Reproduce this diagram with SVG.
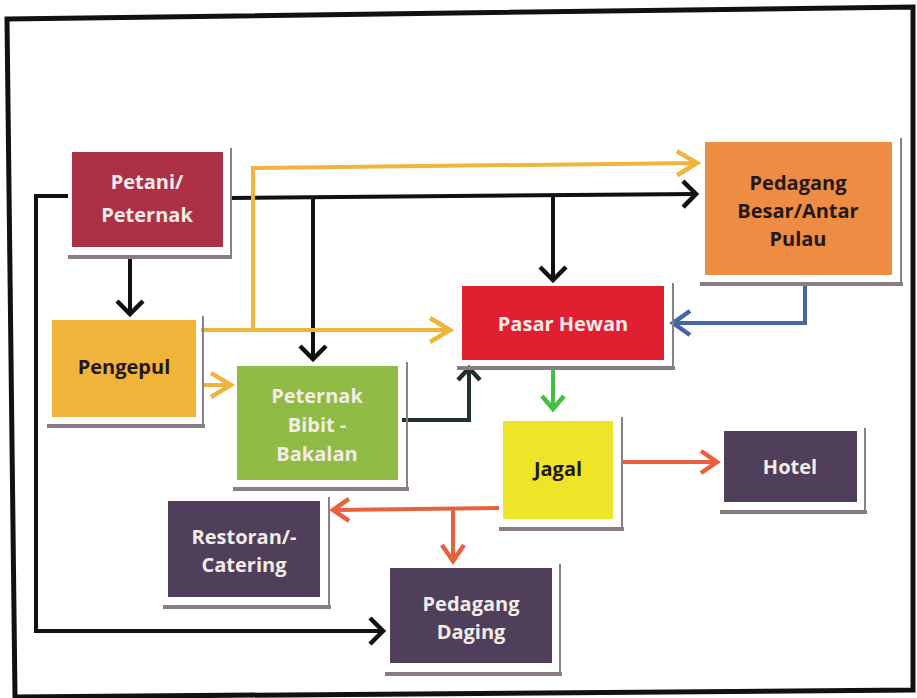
<svg xmlns="http://www.w3.org/2000/svg" width="917" height="698" viewBox="0 0 917 698">
<style>
.box{stroke:none}
.sh{fill:none;stroke:#8a7f86;stroke-width:2}
.shb{fill:none;stroke:#8a7c84;stroke-width:4}
.t{font-family:"Open Sans","Liberation Sans",sans-serif;font-weight:700;font-size:20px;text-anchor:middle}
.lt{fill:#f4ece8}
.dk{fill:#231815}
.c{fill:none;stroke-width:4;stroke-linejoin:miter}
</style>
<defs>
<marker id="aBk" markerUnits="userSpaceOnUse" markerWidth="40" markerHeight="40" viewBox="-20 -20 40 40" refX="0" refY="0" orient="auto"><path d="M-13,-13 L0,0 L-13,13" fill="none" stroke="#111" stroke-width="4.5"/></marker>
<marker id="aYe" markerUnits="userSpaceOnUse" markerWidth="40" markerHeight="40" viewBox="-26 -20 40 40" refX="0" refY="0" orient="auto"><path d="M-20,-12 L0,0 L-20,12" fill="none" stroke="#efb43c" stroke-width="4.5"/></marker>
<marker id="aDg" markerUnits="userSpaceOnUse" markerWidth="40" markerHeight="40" viewBox="-20 -20 40 40" refX="0" refY="0" orient="auto"><path d="M-12,-11 L0,0 L-12,11" fill="none" stroke="#1f3328" stroke-width="4.5"/></marker>
<marker id="aBl" markerUnits="userSpaceOnUse" markerWidth="40" markerHeight="40" viewBox="-24 -20 40 40" refX="0" refY="0" orient="auto"><path d="M-17,-12 L0,0 L-17,12" fill="none" stroke="#4468a6" stroke-width="4.5"/></marker>
<marker id="aGr" markerUnits="userSpaceOnUse" markerWidth="40" markerHeight="40" viewBox="-20 -20 40 40" refX="0" refY="0" orient="auto"><path d="M-13,-11 L0,0 L-13,11" fill="none" stroke="#43c043" stroke-width="4.5"/></marker>
<marker id="aOr" markerUnits="userSpaceOnUse" markerWidth="40" markerHeight="40" viewBox="-24 -20 40 40" refX="0" refY="0" orient="auto"><path d="M-16,-11 L0,0 L-16,11" fill="none" stroke="#e8613c" stroke-width="4.5"/></marker>
</defs>
<rect width="917" height="698" fill="#ffffff"/>
<polygon points="7,19 913,7 913,690 15,697" fill="none" stroke="#111" stroke-width="5"/>

<g id="connectors">
<!-- black -->
<path class="c" stroke="#111" d="M68,196 H36 V631 H383" marker-end="url(#aBk)"/>
<path class="c" stroke="#111" d="M231,198 L696,194" marker-end="url(#aBk)"/>
<path class="c" stroke="#111" d="M313,198 V359" marker-end="url(#aBk)"/>
<path class="c" stroke="#111" d="M553,196 V280" marker-end="url(#aBk)"/>
<path class="c" stroke="#111" d="M130,258 V314" marker-end="url(#aBk)"/>
<!-- yellow -->
<path class="c" stroke="#efb43c" d="M201,330 H450" marker-end="url(#aYe)"/>
<path class="c" stroke="#efb43c" d="M253,330 V168 L697,163" marker-end="url(#aYe)"/>
<path class="c" stroke="#efb43c" d="M204,385 H231" marker-end="url(#aYe)"/>
<!-- dark green -->
<path class="c" stroke="#1f3328" d="M402,420 H469 V368" marker-end="url(#aDg)"/>
<!-- blue -->
<path class="c" stroke="#4468a6" d="M805,286 V323 H673" marker-end="url(#aBl)"/>
<!-- green -->
<path class="c" stroke="#43c043" d="M553,370 V409" marker-end="url(#aGr)"/>
<!-- orange -->
<path class="c" stroke="#e8613c" d="M622,462 H717" marker-end="url(#aOr)"/>
<path class="c" stroke="#e8613c" d="M499,508 L333,510" marker-end="url(#aOr)"/>
<path class="c" stroke="#e8613c" d="M453,509 V561" marker-end="url(#aOr)"/>
</g>

<g id="petani">
<path class="sh" d="M231,148 V258"/><path class="shb" d="M68,257 H232"/>
<rect class="box" x="72" y="152" width="151" height="95" fill="#ac3146"/>
<text class="t lt" x="147" y="189">Petani/</text>
<text class="t lt" x="147" y="222">Peternak</text>
</g>

<g id="pengepul">
<path class="sh" d="M203,316 V427"/><path class="shb" d="M47,426 H205"/>
<rect class="box" x="52" y="320" width="144" height="97" fill="#f1b43a"/>
<text class="t dk" x="124" y="374">Pengepul</text>
</g>

<g id="peternak-bibit">
<path class="sh" d="M407,362 V490"/><path class="shb" d="M233,489 H409"/>
<rect class="box" x="237" y="366" width="161" height="114" fill="#8fba44"/>
<text class="t lt" x="317" y="403">Peternak</text>
<text class="t lt" x="317" y="432">Bibit -</text>
<text class="t lt" x="317" y="461">Bakalan</text>
</g>

<g id="pasar-hewan">
<path class="sh" d="M673,283 V369"/><path class="shb" d="M457,368 H675"/>
<rect class="box" x="462" y="286" width="202" height="74" fill="#e21f30"/>
<text class="t lt" x="563" y="331">Pasar Hewan</text>
</g>

<g id="pedagang-besar">
<path class="sh" d="M901,138 V285"/><path class="shb" d="M700,284 H903"/>
<rect class="box" x="705" y="142" width="187" height="133" fill="#ef8c44"/>
<text class="t dk" x="798" y="190">Pedagang</text>
<text class="t dk" x="798" y="218">Besar/Antar</text>
<text class="t dk" x="798" y="246">Pulau</text>
</g>

<g id="jagal">
<path class="sh" d="M622,417 V530"/><path class="shb" d="M499,529 H624"/>
<rect class="box" x="503" y="421" width="110" height="98" fill="#efe528"/>
<text class="t dk" x="558" y="476">Jagal</text>
</g>

<g id="hotel">
<path class="sh" d="M865,428 V513"/><path class="shb" d="M720,512 H867"/>
<rect class="box" x="724" y="431" width="133" height="71" fill="#4f3f5b"/>
<text class="t lt" x="790" y="474">Hotel</text>
</g>

<g id="restoran">
<path class="sh" d="M329,497 V608"/><path class="shb" d="M163,607 H331"/>
<rect class="box" x="168" y="501" width="152" height="96" fill="#4f3f5b"/>
<text class="t lt" x="244" y="544">Restoran/-</text>
<text class="t lt" x="244" y="572">Catering</text>
</g>

<g id="pedagang-daging">
<path class="sh" d="M560,564 V675"/><path class="shb" d="M385,674 H562"/>
<rect class="box" x="390" y="568" width="162" height="95" fill="#4f3f5b"/>
<text class="t lt" x="471" y="611">Pedagang</text>
<text class="t lt" x="471" y="639">Daging</text>
</g>
</svg>
